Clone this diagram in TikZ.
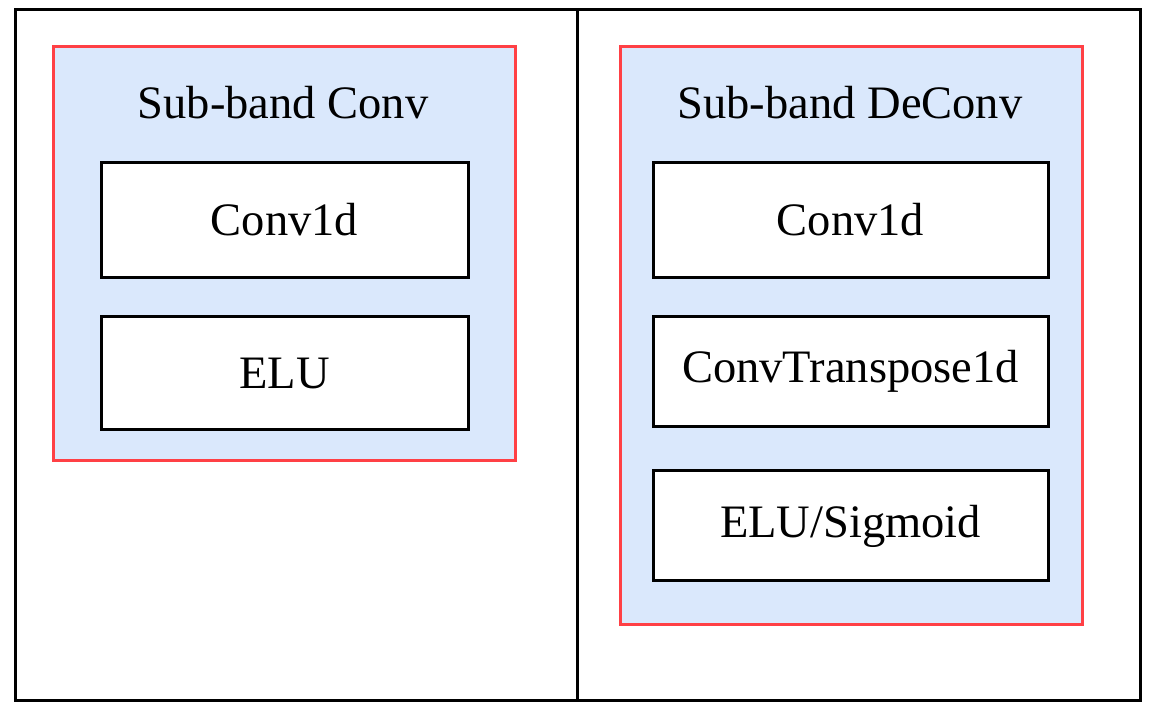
\documentclass[tikz,border=0pt]{standalone}
\usepackage{fontspec}
\setmainfont{Liberation Serif}
\definecolor{grpfill}{HTML}{DAE8FC}
\definecolor{grpred}{HTML}{FF4045}
\begin{document}
\begin{tikzpicture}[x=1pt,y=-1pt,
  frame/.style={draw=black,line width=3pt},
  group/.style={draw=grpred,fill=grpfill,line width=3pt},
  layerbox/.style={draw=black,fill=white,line width=3pt},
  lbl/.style={font=\fontsize{46.5}{52}\selectfont,inner sep=0pt}]
\useasboundingbox (0,0) rectangle (1150,712);
% outer frame and divider
\draw[frame] (15,9) rectangle (1140,700);
\coordinate (dtop) at (577,9);
\coordinate (dbot) at (577,700);
\draw[frame] (dtop) -- (dbot);
% left group
\draw[group] (53,46) rectangle (515,460);
\node[lbl] (tl) at (283,103) {Sub-band Conv};
\draw[layerbox] (101,162) rectangle (468,277);
\node[lbl] (lc) at (284.5,219.5) {Conv1d};
\draw[layerbox] (101,316) rectangle (468,429);
\node[lbl] (le) at (284.5,373.5) {ELU};
% right group
\draw[group] (620,46) rectangle (1082,624);
\node[lbl] (tr) at (850,103) {Sub-band DeConv};
\draw[layerbox] (653,162) rectangle (1048,277);
\node[lbl] (rc) at (850.5,219.5) {Conv1d};
\draw[layerbox] (653,316) rectangle (1048,426);
\node[lbl] (rt) at (850.5,371) {ConvTranspose1d};
\draw[layerbox] (653,470) rectangle (1048,580);
\node[lbl] (rs) at (850.5,526) {ELU/Sigmoid};
\end{tikzpicture}
\end{document}
